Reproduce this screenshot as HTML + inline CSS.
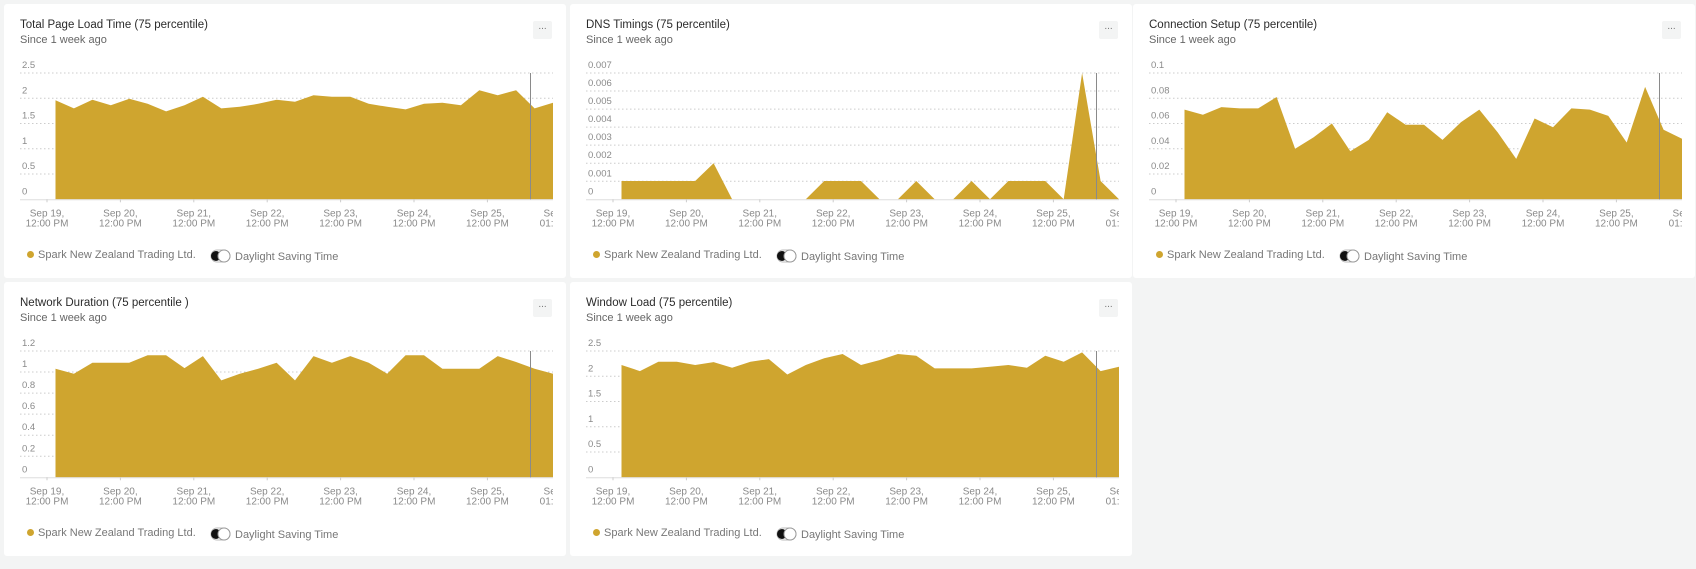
<!DOCTYPE html>
<html><head><meta charset="utf-8">
<style>
html,body{margin:0;padding:0;}
body{width:1696px;height:569px;background:#f3f4f4;position:relative;overflow:hidden;font-family:"Liberation Sans",sans-serif;}
.p{position:absolute;width:562px;height:274px;background:#fff;border-radius:3px;}
.t{position:absolute;left:16px;top:15px;font-size:11.5px;color:#2b2b2b;white-space:nowrap;}
.s{position:absolute;left:16px;top:30px;font-size:11px;color:#666;white-space:nowrap;}
.b{position:absolute;left:529px;top:17px;width:19px;height:18px;background:#f3f4f4;border-radius:2px;font-size:10px;color:#777;text-align:center;line-height:12px;}
.lg{position:absolute;left:23px;top:245px;font-size:11px;color:#777;white-space:nowrap;}
.dot{display:inline-block;width:7px;height:7px;border-radius:50%;background:#cfa52f;vertical-align:middle;margin-right:4px;margin-top:-2px;}
svg{position:absolute;left:0;top:0;}
</style></head><body>
<div id="root"></div>
<script>
var F='#cfa52f';
var panels=[
 {x:4,y:4,t:'Total Page Load Time (75 percentile)',labels:['0','0.5','1','1.5','2','2.5'],
  d:[1.96,1.8,1.97,1.86,1.99,1.89,1.74,1.86,2.03,1.8,1.83,1.89,1.97,1.93,2.06,2.03,2.03,1.89,1.83,1.78,1.89,1.91,1.86,2.16,2.06,2.16,1.8,1.91].map(function(v){return v/2.5;})},
 {x:570,y:4,t:'DNS Timings (75 percentile)',labels:['0','0.001','0.002','0.003','0.004','0.005','0.006','0.007'],
  d:[.145,.145,.145,.145,.145,.286,0,0,0,0,0,.145,.145,.145,0,0,.145,0,0,.145,0,.145,.145,.145,0,1.0,.145,0]},
 {x:1133,y:4,t:'Connection Setup (75 percentile)',labels:['0','0.02','0.04','0.06','0.08','0.1'],
  d:[.071,.067,.073,.072,.072,.081,.040,.049,.060,.038,.047,.069,.059,.059,.047,.061,.071,.053,.032,.064,.057,.072,.071,.066,.045,.089,.055,.048].map(function(v){return v/0.1;})},
 {x:4,y:282,t:'Network Duration (75 percentile )',labels:['0','0.2','0.4','0.6','0.8','1','1.2'],
  d:[.86,.82,.907,.907,.907,.966,.966,.865,.96,.767,.82,.86,.907,.767,.96,.907,.96,.907,.82,.966,.966,.86,.86,.86,.96,.913,.86,.82]},
 {x:570,y:282,t:'Window Load (75 percentile)',labels:['0','0.5','1','1.5','2','2.5'],
  d:[.889,.841,.915,.915,.889,.912,.867,.915,.936,.814,.889,.942,.976,.889,.928,.976,.963,.862,.862,.862,.875,.889,.867,.963,.915,.989,.841,.875]}
];
var days=['Sep 19,','Sep 20,','Sep 21,','Sep 22,','Sep 23,','Sep 24,','Sep 25,'];
var html='';
var TOP=69,BASE=195.3,H=BASE-TOP,X0=51.5,X1=549,GL=16;
panels.forEach(function(p){
  var s='<svg width="562" height="274" xmlns="http://www.w3.org/2000/svg">';
  var n=p.labels.length-1;
  for(var i=0;i<=n;i++){
    var y=BASE-H*i/n;
    if(i>0) s+='<line x1="'+GL+'" y1="'+y+'" x2="'+X1+'" y2="'+y+'" stroke="#ccc" stroke-width="1" stroke-dasharray="1.5,2.5"/>';
    s+='<text x="'+(GL+2)+'" y="'+(y-5)+'" font-size="9.5" fill="#8a8a8a" font-family="Liberation Sans,sans-serif">'+p.labels[i]+'</text>';
  }
  var pts='M'+X0+','+BASE;
  var dx=(X1-X0)/(p.d.length-1);
  p.d.forEach(function(v,i){pts+=' L'+(X0+i*dx).toFixed(1)+','+(BASE-v*H).toFixed(1);});
  pts+=' L'+X1+','+BASE+' Z';
  s+='<path d="'+pts+'" fill="'+F+'"/>';
  s+='<line x1="'+GL+'" y1="'+(BASE+0.5)+'" x2="'+X1+'" y2="'+(BASE+0.5)+'" stroke="#ddd" stroke-width="1"/>';
  s+='<line x1="526.5" y1="'+TOP+'" x2="526.5" y2="'+BASE+'" stroke="#8a8a8a" stroke-width="1"/>';
  s+='<svg x="0" y="0" width="'+X1+'" height="274">';
  for(var k=0;k<8;k++){
    var cx=43+k*73.4;
    s+='<line x1="'+cx+'" y1="'+BASE+'" x2="'+cx+'" y2="'+(BASE+3)+'" stroke="#ccc"/>';
    var l1=k<7?days[k]:'Sep 26,', l2=k<7?'12:00 PM':'01:00 AM';
    s+='<text x="'+cx+'" y="'+(BASE+17)+'" text-anchor="middle" font-size="10" fill="#8a8a8a" font-family="Liberation Sans,sans-serif">'+l1+'</text>';
    s+='<text x="'+cx+'" y="'+(BASE+27)+'" text-anchor="middle" font-size="10" fill="#8a8a8a" font-family="Liberation Sans,sans-serif">'+l2+'</text>';
  }
  s+='</svg>';
  // toggle
  s+='<rect x="207" y="246" width="19" height="12" rx="6" fill="#fff" stroke="#bbb"/>';
  s+='<rect x="207" y="247" width="10" height="10" rx="5" fill="#111"/>';
  s+='<circle cx="220" cy="252" r="6" fill="#fff" stroke="#999"/>';
  s+='<text x="231" y="256" font-size="11" fill="#777" font-family="Liberation Sans,sans-serif">Daylight Saving Time</text>';
  s+='</svg>';
  html+='<div class="p" style="left:'+p.x+'px;top:'+p.y+'px">'+s+
   '<div class="t">'+p.t+'</div><div class="s">Since 1 week ago</div><div class="b">...</div>'+
   '<div class="lg"><span class="dot"></span>Spark New Zealand Trading Ltd.</div></div>';
});
document.getElementById('root').innerHTML=html;
</script>
</body></html>
